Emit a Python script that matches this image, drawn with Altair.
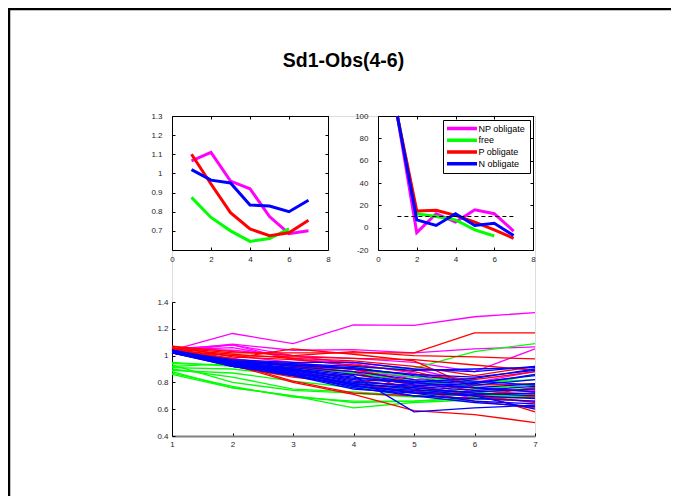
import altair as alt
import pandas as pd

FONT = "Liberation Sans"
TITLE = "Sd1-Obs(4-6)"
GROUPS = ["NP obligate", "free", "P obligate", "N obligate"]
COLORS = ["#ff00ff", "#00ff00", "#ff0000", "#0000ff"]
X = [1, 2, 3, 4, 5, 6, 7]

# ---- top-left panel: mean curves ----
TL_NP = [1.065, 1.11, 0.96, 0.92, 0.775, 0.685, 0.70]
TL_FREE = [0.875, 0.77, 0.70, 0.645, 0.66, 0.71, None]
TL_P = [1.10, 0.945, 0.795, 0.71, 0.675, 0.69, 0.755]
TL_N = [1.02, 0.965, 0.95, 0.835, 0.83, 0.80, 0.86]
TL_XDOM = [0, 8]
TL_YDOM = [0.6, 1.3]
TL_XTICKS = [0, 2, 4, 6, 8]
TL_YTICKS = [0.7, 0.8, 0.9, 1, 1.1, 1.2, 1.3]

# ---- top-right panel: percent change curves ----
TR_NP = [100, -4.5, 12.5, 5, 16, 12.5, -3]
TR_FREE = [100, 12.5, 10, 7, -2, -7.5, None]
TR_P = [100, 15, 15.5, 11, 5, -2, -9.5]
TR_N = [100, 7, 2, 12.5, 2, 4, -7]
TR_REF_X = [1, 7]
TR_REF_Y = 10
TR_XDOM = [0, 8]
TR_YDOM = [-20, 100]
TR_XTICKS = [0, 2, 4, 6, 8]
TR_YTICKS = [-20, 0, 20, 40, 60, 80, 100]

# ---- bottom panel: individual curves ----
B_NP = [
    [1.04, 1.165, 1.09, 1.23, 1.225, 1.29, 1.32],
    [1.04, 1.085, 1.04, 1.045, 1.02, 1.05, 1.065],
    [1.05, 1.08, 1.00, 0.98, 0.95, 0.88, 1.05],
    [1.03, 1.08, 0.97, 0.95, 0.90, 0.80, 0.88],
    [1.04, 1.06, 0.98, 0.92, 0.82, 0.70, 0.72],
    [1.03, 1.00, 0.95, 0.90, 0.78, 0.68, 0.66],
    [1.02, 0.98, 0.92, 0.88, 0.84, 0.76, 0.74],
    [1.05, 1.04, 1.00, 0.94, 0.87, 0.72, 0.70],
]
B_FREE = [
    [0.88, 0.76, 0.70, 0.61, 0.65, 0.67, 0.70],
    [0.87, 0.77, 0.69, 0.66, 0.66, 0.68, 0.71],
    [0.86, 0.76, 0.70, 0.65, 0.66, 0.69, 0.72],
    [0.90, 0.84, 0.75, 0.73, 0.70, 0.73, 0.75],
    [0.93, 0.80, 0.74, 0.72, 0.69, 0.71, 0.69],
    [0.95, 0.92, 0.88, 0.91, 0.905, 1.03, 1.09],
    [0.92, 0.94, 0.93, 0.90, 0.84, 0.80, 0.82],
    [0.94, 0.93, 0.91, 0.87, 0.81, 0.77, 0.86],
    [0.91, 0.90, 0.85, 0.80, 0.74, 0.72, 0.76],
    [0.89, 0.87, 0.81, 0.76, 0.73, 0.75, 0.78],
]
B_P = [
    [1.06, 1.02, 1.02, 1.02, 1.02, 1.17, 1.17],
    [1.07, 1.03, 1.00, 1.03, 1.00, 0.99, 0.975],
    [1.05, 0.98, 1.05, 1.01, 0.96, 0.76, 0.73],
    [1.06, 0.93, 0.80, 0.71, 0.59, 0.56, 0.50],
    [1.06, 0.94, 0.81, 0.72, 0.70, 0.68, 0.69],
    [1.05, 1.01, 0.98, 0.96, 0.92, 0.85, 0.92],
    [1.06, 0.95, 0.85, 0.86, 0.78, 0.70, 0.76],
    [1.04, 0.96, 0.92, 0.90, 0.80, 0.74, 0.71],
    [1.07, 0.99, 0.97, 0.93, 0.88, 0.78, 0.79],
    [1.06, 0.93, 0.91, 0.88, 0.74, 0.66, 0.61],
    [1.05, 0.97, 0.94, 0.90, 0.86, 0.82, 0.88],
    [1.04, 1.00, 0.99, 0.98, 0.97, 0.93, 0.89],
    [1.05, 0.92, 0.84, 0.79, 0.73, 0.70, 0.65],
    [1.06, 0.94, 0.87, 0.82, 0.76, 0.72, 0.58],
]
B_N = [
    [1.03, 0.97, 0.95, 0.95, 0.90, 0.88, 0.92],
    [1.02, 0.96, 0.94, 0.92, 0.89, 0.90, 0.91],
    [1.03, 0.93, 0.90, 0.85, 0.58, 0.61, 0.63],
    [1.04, 0.94, 0.88, 0.78, 0.72, 0.66, 0.64],
    [1.03, 0.93, 0.86, 0.76, 0.70, 0.65, 0.62],
    [1.02, 0.92, 0.85, 0.75, 0.72, 0.70, 0.68],
    [1.03, 0.94, 0.87, 0.79, 0.76, 0.72, 0.70],
    [1.02, 0.93, 0.86, 0.77, 0.74, 0.73, 0.75],
    [1.04, 0.95, 0.89, 0.80, 0.78, 0.76, 0.79],
    [1.03, 0.96, 0.92, 0.88, 0.82, 0.80, 0.85],
    [1.02, 0.95, 0.93, 0.90, 0.86, 0.84, 0.89],
    [1.03, 0.94, 0.90, 0.82, 0.80, 0.83, 0.90],
    [1.04, 0.93, 0.88, 0.79, 0.75, 0.70, 0.60],
    [1.02, 0.92, 0.87, 0.78, 0.70, 0.68, 0.66],
    [1.03, 0.95, 0.91, 0.86, 0.80, 0.76, 0.73],
    [1.04, 0.96, 0.93, 0.91, 0.85, 0.81, 0.78],
    [1.03, 0.93, 0.89, 0.81, 0.77, 0.74, 0.77],
    [1.02, 0.94, 0.89, 0.84, 0.79, 0.78, 0.82],
    [1.03, 0.92, 0.85, 0.77, 0.73, 0.71, 0.72],
    [1.04, 0.95, 0.90, 0.83, 0.81, 0.79, 0.86],
]
B_XDOM = [1, 7]
B_YDOM = [0.4, 1.4]
B_XTICKS = [1, 2, 3, 4, 5, 6, 7]
B_YTICKS = [0.4, 0.6, 0.8, 1, 1.2, 1.4]

# ---- layout (pixels inside one view) ----
W, H = 363, 320
TL_XR = [0, 156]
TR_XR = [206, 361]
TOP_YR = [134, 0]
B_XR = [0, 363]
B_YR = [320, 186]


def long_df(groups):
    rows = []
    for g, lines in groups:
        for i, vals in enumerate(lines):
            for x, v in zip(X, vals):
                if v is not None:
                    rows.append({"grp": g, "id": f"{g}-{i}", "x": x, "y": v})
    return pd.DataFrame(rows)


def sc(dom, rng):
    return alt.Scale(domain=dom, range=rng, nice=False, zero=False)


TICK = {"expr": "-3"}


def axis(orient, values, labels=True, pad=8, offset=0, dcolor="black", dwidth=1):
    return alt.Axis(
        orient=orient, values=values, grid=False, title=None, labels=labels,
        ticks=True, tickSize=TICK, tickColor="black", tickWidth=1,
        domainColor=dcolor, domainWidth=dwidth, offset=offset,
        labelFont=FONT, labelFontSize=8, labelColor="#262626",
        labelPadding=pad, labelExpr="'' + datum.value",
        labelFlush=False, labelOverlap=False,
    )


def color(legend):
    return alt.Color("grp:N", scale=alt.Scale(domain=GROUPS, range=COLORS), legend=legend)


tl_df = long_df([(g, [s]) for g, s in zip(GROUPS, [TL_NP, TL_FREE, TL_P, TL_N])])
tr_df = long_df([(g, [s]) for g, s in zip(GROUPS, [TR_NP, TR_FREE, TR_P, TR_N])])
b_df = long_df([("NP obligate", B_NP), ("free", B_FREE), ("P obligate", B_P), ("N obligate", B_N)])

TOP_DROP = -(H - TOP_YR[0])

# top-left
tl_lines = alt.Chart(tl_df).mark_line(strokeWidth=3).encode(
    x=alt.X("x:Q", scale=sc(TL_XDOM, TL_XR), axis=axis("bottom", TL_XTICKS, pad=8, offset=TOP_DROP)),
    y=alt.Y("y:Q", scale=sc(TL_YDOM, TOP_YR), axis=axis("left", TL_YTICKS, pad=13)),
    color=color(None), detail="id:N",
)
tl_box = alt.Chart(tl_df).mark_line(opacity=0).encode(
    x=alt.X("x:Q", scale=sc(TL_XDOM, TL_XR), axis=axis("top", TL_XTICKS, labels=False)),
    y=alt.Y("y:Q", scale=sc(TL_YDOM, TOP_YR),
            axis=axis("right", TL_YTICKS, labels=False, offset=-(W - TL_XR[1]))),
    detail="id:N",
)

# top-right
legend = alt.Legend(
    title=None, orient="none", legendX=271, legendY=4,
    symbolType="stroke", symbolSize=900, symbolStrokeWidth=3.5,
    symbolOffset={"expr": "-2"}, labelOffset={"expr": "-0.5"},
    labelFont=FONT, labelFontSize=9, labelColor="black",
    padding=4, rowPadding=1.75, clipHeight=9, strokeColor="black", fillColor="white",
    labelLimit=200,
)
tr_lines = alt.Chart(tr_df).mark_line(strokeWidth=3).encode(
    x=alt.X("x:Q", scale=sc(TR_XDOM, TR_XR), axis=axis("bottom", TR_XTICKS, pad=8, offset=TOP_DROP)),
    y=alt.Y("y:Q", scale=sc(TR_YDOM, TOP_YR), axis=axis("left", TR_YTICKS, pad=13, offset=-TR_XR[0])),
    color=color(legend), detail="id:N",
)
ref_df = pd.DataFrame({"x": [TR_REF_X[0]], "x2": [TR_REF_X[1]], "y": [TR_REF_Y]})
tr_ref = alt.Chart(ref_df).mark_rule(color="black", strokeDash=[4, 3], strokeWidth=1).encode(
    x=alt.X("x:Q", scale=sc(TR_XDOM, TR_XR), axis=None), x2="x2:Q",
    y=alt.Y("y:Q", scale=sc(TR_YDOM, TOP_YR), axis=None),
)
tr_box = alt.Chart(tr_df).mark_line(opacity=0).encode(
    x=alt.X("x:Q", scale=sc(TR_XDOM, TR_XR), axis=axis("top", TR_XTICKS, labels=False)),
    y=alt.Y("y:Q", scale=sc(TR_YDOM, TOP_YR),
            axis=axis("right", TR_YTICKS, labels=False, offset=-(W - TR_XR[1]))),
    detail="id:N",
)

# bottom
b_lines = alt.Chart(b_df).mark_line(strokeWidth=1.3).encode(
    x=alt.X("x:Q", scale=sc(B_XDOM, B_XR),
            axis=axis("bottom", B_XTICKS, pad=7, dcolor="#808080", dwidth=2)),
    y=alt.Y("y:Q", scale=sc(B_YDOM, B_YR), axis=axis("left", B_YTICKS, pad=7)),
    color=color(None), detail="id:N",
)

# figure frame
frame_df = pd.DataFrame({"k": [0]})
frame_left = alt.Chart(frame_df).mark_rule(color="black", strokeWidth=2.5).encode(
    x=alt.value(-163), y=alt.value(-108), y2=alt.value(380)
)
frame_top = alt.Chart(frame_df).mark_rule(color="black", strokeWidth=2.5).encode(
    x=alt.value(-164), x2=alt.value(499), y=alt.value(-107)
)

chart = alt.layer(
    tl_lines, tl_box, b_lines, tr_lines, tr_ref, tr_box, frame_left, frame_top
).resolve_scale(
    x="independent", y="independent", color="independent"
).resolve_axis(
    x="independent", y="independent"
).resolve_legend(
    color="independent"
).properties(
    width=W, height=H,
    title=alt.TitleParams(
        TITLE, font=FONT, fontSize=19.5, fontWeight="bold", color="black",
        anchor="middle", frame="group", dx=-10, offset=-84, baseline="bottom",
    ),
    autosize=alt.AutoSizeParams(type="none"),
    padding={"left": 164, "top": 108, "right": 136, "bottom": 60},
).configure_view(stroke="transparent").configure(background="white")

chart.save("out.html", embed_options={"renderer": "svg", "actions": False})
